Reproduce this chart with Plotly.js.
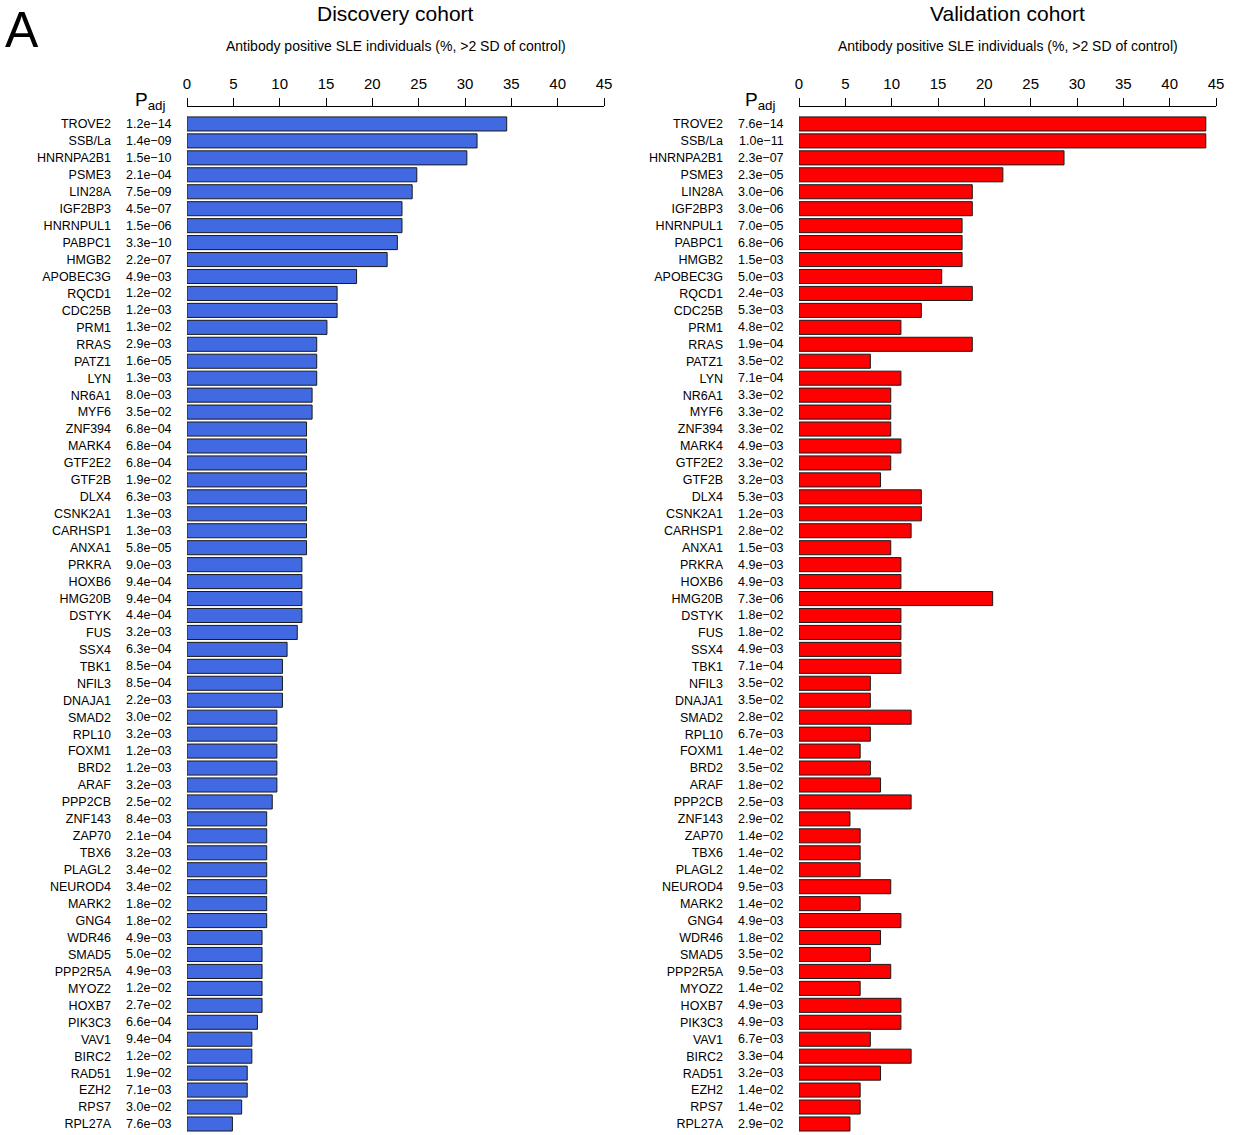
<!DOCTYPE html>
<html>
<head>
<meta charset="utf-8">
<script src="https://cdn.plot.ly/plotly-3.0.1.min.js"></script>
<style>
html,body{margin:0;padding:0;background:#fff;}
#chart{width:1235px;height:1135px;}
</style>
</head>
<body>
<div id="chart"></div>
<script>
// ---------- data ----------
var genes = ["TROVE2","SSB/La","HNRNPA2B1","PSME3","LIN28A","IGF2BP3","HNRNPUL1","PABPC1","HMGB2","APOBEC3G",
  "RQCD1","CDC25B","PRM1","RRAS","PATZ1","LYN","NR6A1","MYF6","ZNF394","MARK4",
  "GTF2E2","GTF2B","DLX4","CSNK2A1","CARHSP1","ANXA1","PRKRA","HOXB6","HMG20B","DSTYK",
  "FUS","SSX4","TBK1","NFIL3","DNAJA1","SMAD2","RPL10","FOXM1","BRD2","ARAF",
  "PPP2CB","ZNF143","ZAP70","TBX6","PLAGL2","NEUROD4","MARK2","GNG4","WDR46","SMAD5",
  "PPP2R5A","MYOZ2","HOXB7","PIK3C3","VAV1","BIRC2","RAD51","EZH2","RPS7","RPL27A"];

var discoveryPct = [34.5,31.3,30.2,24.8,24.3,23.2,23.2,22.7,21.6,18.3,
  16.2,16.2,15.1,14.0,14.0,14.0,13.5,13.5,12.9,12.9,
  12.9,12.9,12.9,12.9,12.9,12.9,12.4,12.4,12.4,12.4,
  11.9,10.8,10.3,10.3,10.3,9.7,9.7,9.7,9.7,9.7,
  9.2,8.6,8.6,8.6,8.6,8.6,8.6,8.6,8.1,8.1,
  8.1,8.1,8.1,7.6,7.0,7.0,6.5,6.5,5.9,4.9];

var discoveryPadj = ["1.2e−14","1.4e−09","1.5e−10","2.1e−04","7.5e−09","4.5e−07","1.5e−06","3.3e−10","2.2e−07","4.9e−03",
  "1.2e−02","1.2e−03","1.3e−02","2.9e−03","1.6e−05","1.3e−03","8.0e−03","3.5e−02","6.8e−04","6.8e−04",
  "6.8e−04","1.9e−02","6.3e−03","1.3e−03","1.3e−03","5.8e−05","9.0e−03","9.4e−04","9.4e−04","4.4e−04",
  "3.2e−03","6.3e−04","8.5e−04","8.5e−04","2.2e−03","3.0e−02","3.2e−03","1.2e−03","1.2e−03","3.2e−03",
  "2.5e−02","8.4e−03","2.1e−04","3.2e−03","3.4e−02","3.4e−02","1.8e−02","1.8e−02","4.9e−03","5.0e−02",
  "4.9e−03","1.2e−02","2.7e−02","6.6e−04","9.4e−04","1.2e−02","1.9e−02","7.1e−03","3.0e−02","7.6e−03"];

var validationPct = [43.9,43.9,28.6,22.0,18.7,18.7,17.6,17.6,17.6,15.4,
  18.7,13.2,11.0,18.7,7.7,11.0,9.9,9.9,9.9,11.0,
  9.9,8.8,13.2,13.2,12.1,9.9,11.0,11.0,20.9,11.0,
  11.0,11.0,11.0,7.7,7.7,12.1,7.7,6.6,7.7,8.8,
  12.1,5.5,6.6,6.6,6.6,9.9,6.6,11.0,8.8,7.7,
  9.9,6.6,11.0,11.0,7.7,12.1,8.8,6.6,6.6,5.5];

var validationPadj = ["7.6e−14","1.0e−11","2.3e−07","2.3e−05","3.0e−06","3.0e−06","7.0e−05","6.8e−06","1.5e−03","5.0e−03",
  "2.4e−03","5.3e−03","4.8e−02","1.9e−04","3.5e−02","7.1e−04","3.3e−02","3.3e−02","3.3e−02","4.9e−03",
  "3.3e−02","3.2e−03","5.3e−03","1.2e−03","2.8e−02","1.5e−03","4.9e−03","4.9e−03","7.3e−06","1.8e−02",
  "1.8e−02","4.9e−03","7.1e−04","3.5e−02","3.5e−02","2.8e−02","6.7e−03","1.4e−02","3.5e−02","1.8e−02",
  "2.5e−03","2.9e−02","1.4e−02","1.4e−02","1.4e−02","9.5e−03","1.4e−02","4.9e−03","1.8e−02","3.5e−02",
  "9.5e−03","1.4e−02","4.9e−03","4.9e−03","6.7e−03","3.3e−04","3.2e−03","1.4e−02","1.4e−02","2.9e−02"];

var xTicks = [0,5,10,15,20,25,30,35,40,45];
var panelTitles = ["Discovery cohort","Validation cohort"];
var axisLabel = "Antibody positive SLE individuals (%, >2 SD of control)";

// ---------- layout ----------
var W = 1235, H = 1135;
var FONT = "Liberation Sans, Arial, Helvetica, sans-serif";
var leftDom = [187/W, 604/W];
var rightDom = [799/W, 1216/W];
var plotTop = 1 - 107/H;

function xAxis(dom, anchor){
  return {domain: dom, anchor: anchor, side: 'top', range: [0,45], tickvals: xTicks,
    ticks: 'outside', ticklen: 8, tickwidth: 1, tickcolor: '#000',
    showline: true, linecolor: '#000', linewidth: 1, showgrid: false, zeroline: false,
    ticklabelstandoff: 3,
    tickfont: {family: FONT, size: 15, color: '#000'}, fixedrange: true};
}
function yAxis(anchor){
  return {domain: [0, plotTop], anchor: anchor, type: 'category',
    categoryorder: 'array', categoryarray: genes, range: [59.65, -1.0],
    showgrid: false, showline: false, zeroline: false, ticks: '',
    ticklabelstandoff: 75,
    tickfont: {family: FONT, size: 12.5, color: '#000'}, fixedrange: true};
}

var traces = [
  {type: 'bar', orientation: 'h', x: discoveryPct, y: genes, xaxis: 'x', yaxis: 'y',
   marker: {color: '#4169E1', line: {color: '#1a1a1a', width: 1}}, hoverinfo: 'x+y'},
  {type: 'bar', orientation: 'h', x: validationPct, y: genes, xaxis: 'x2', yaxis: 'y2',
   marker: {color: '#FF0000', line: {color: '#1a1a1a', width: 1}}, hoverinfo: 'x+y'}
];

var ann = [];
function addPanel(padj, yref, pRight, pX, centerX, title){
  for (var i = 0; i < genes.length; i++){
    ann.push({xref: 'paper', yref: yref, x: pRight/W, y: i, xanchor: 'right', yanchor: 'middle',
      text: padj[i], showarrow: false, font: {family: FONT, size: 12.5, color: '#000'}});
  }
  ann.push({xref: 'paper', yref: 'paper', x: pX/W, y: 1 - 115/H, xanchor: 'left', yanchor: 'bottom',
    text: 'P<sub>adj</sub>', showarrow: false, font: {family: FONT, size: 19, color: '#000'}});
  ann.push({xref: 'paper', yref: 'paper', x: centerX/W, y: 1 - 0/H, xanchor: 'center', yanchor: 'top',
    text: title, showarrow: false, font: {family: FONT, size: 21, color: '#000'}});
  ann.push({xref: 'paper', yref: 'paper', x: centerX/W, y: 1 - 36/H, xanchor: 'center', yanchor: 'top',
    text: axisLabel, showarrow: false, font: {family: FONT, size: 14, color: '#000'}});
}
addPanel(discoveryPadj, 'y', 174, 133, 395.5, panelTitles[0]);
addPanel(validationPadj, 'y2', 786, 743, 1007.5, panelTitles[1]);
ann.push({xref: 'paper', yref: 'paper', x: 3/W, y: 1, xanchor: 'left', yanchor: 'top',
  text: 'A', showarrow: false, font: {family: FONT, size: 50, color: '#000'}});

var layout = {
  width: W, height: H, margin: {l: 0, r: 0, t: 0, b: 0},
  paper_bgcolor: '#fff', plot_bgcolor: '#fff', showlegend: false,
  bargap: 0.17,
  font: {family: FONT, color: '#000'},
  xaxis: xAxis(leftDom, 'y'), yaxis: yAxis('x'),
  xaxis2: xAxis(rightDom, 'y2'), yaxis2: yAxis('x2'),
  annotations: ann
};

Plotly.newPlot('chart', traces, layout, {staticPlot: true, displayModeBar: false});
</script>
</body>
</html>
